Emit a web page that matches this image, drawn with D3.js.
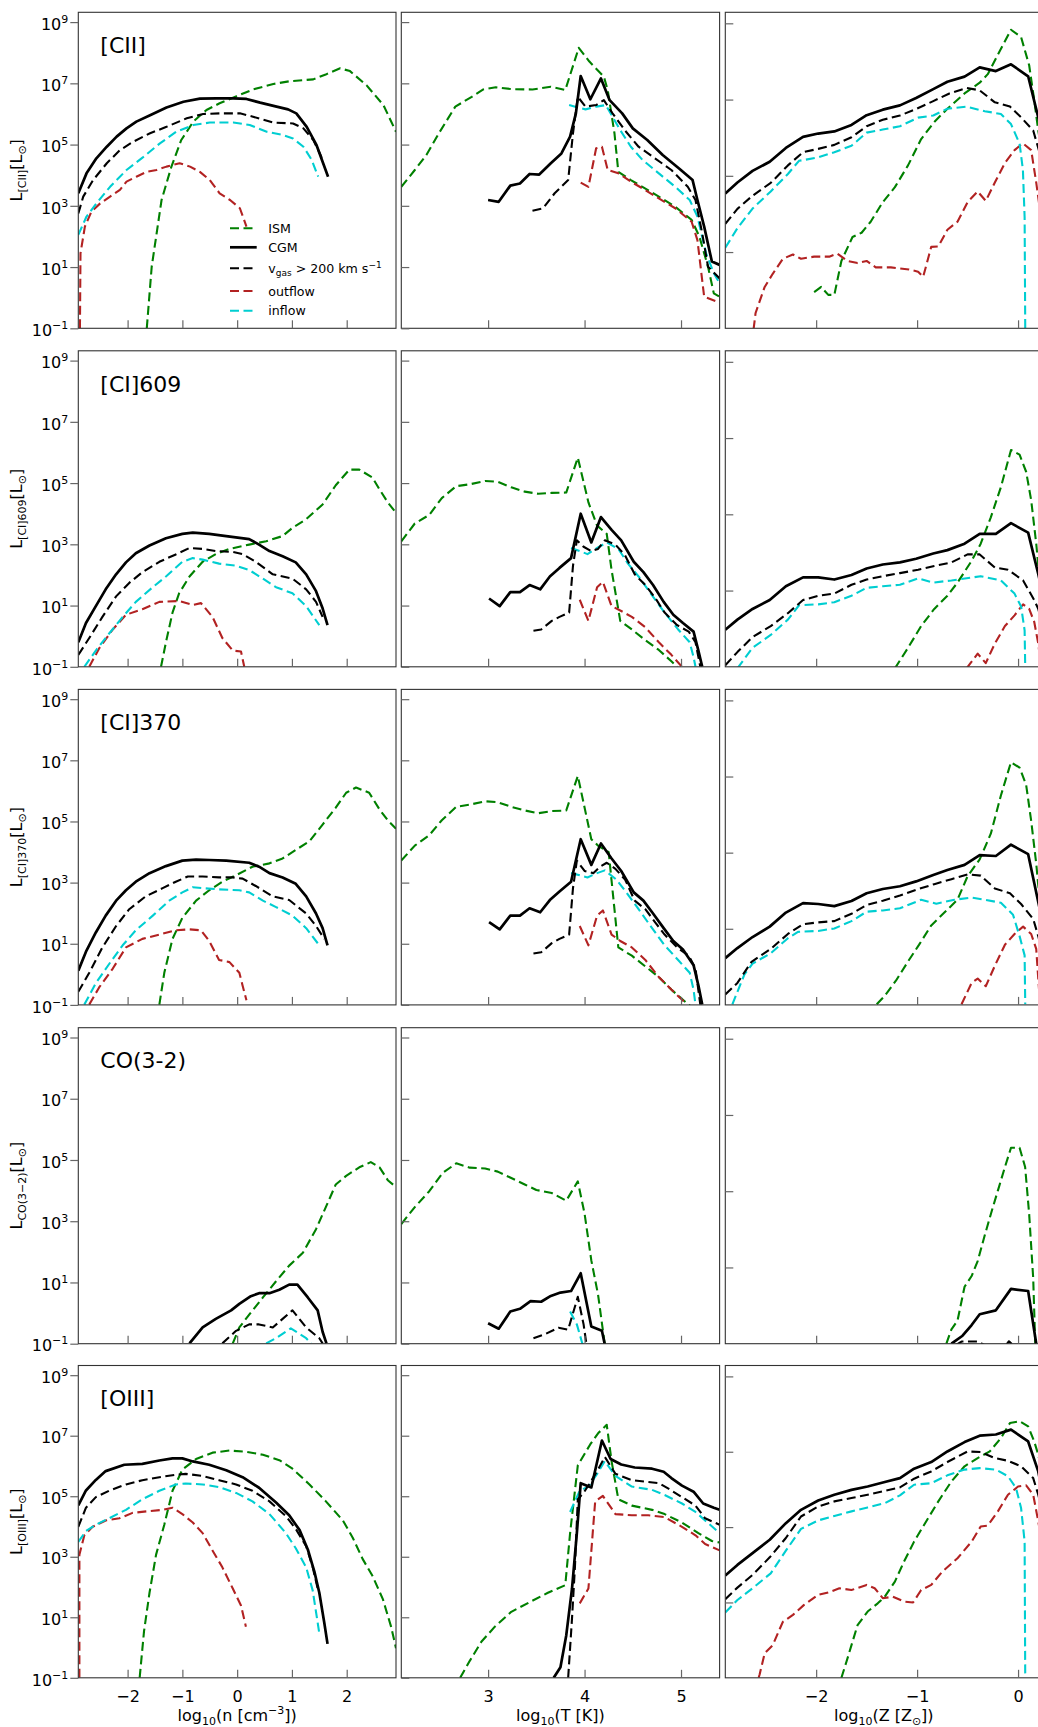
<!DOCTYPE html>
<html><head><meta charset="utf-8">
<script src="https://cdn.jsdelivr.net/npm/d3@7"></script>
<style>body{margin:0;background:#fff}svg{display:block;font-family:"DejaVu Sans",sans-serif}</style>
</head><body>
<script>
// ---- DATA: [log10(x), log10(L / Lsun)] ----
// row 1: [CII]
const cii_n_ism=[[-1.65,-1.0],[-1.56,1.01],[-1.38,3.19],[-1.2,4.28],[-1.02,5.15],[-0.8,5.75],[-0.56,6.13],[-0.32,6.35],[-0.01,6.58],[0.29,6.80],[0.66,6.98],[0.96,7.07],[1.39,7.13],[1.63,7.30],[1.88,7.49],[2.06,7.40],[2.36,6.94],[2.67,6.29],[2.90,5.42]];
const cii_n_cgm=[[-2.90,3.41],[-2.75,4.06],[-2.57,4.55],[-2.38,4.93],[-2.2,5.26],[-2.02,5.53],[-1.84,5.75],[-1.59,5.96],[-1.29,6.21],[-0.98,6.40],[-0.68,6.50],[-0.38,6.51],[-0.07,6.51],[0.17,6.49],[0.42,6.37],[0.72,6.24],[0.93,6.15],[1.08,6.02],[1.27,5.58],[1.45,4.98],[1.57,4.39],[1.66,3.95]];
const cii_n_fast=[[-2.90,2.75],[-2.81,3.30],[-2.63,3.84],[-2.38,4.39],[-2.14,4.82],[-1.9,5.09],[-1.59,5.37],[-1.29,5.58],[-0.92,5.86],[-0.62,6.00],[-0.32,6.02],[0.05,6.02],[0.29,5.91],[0.66,5.72],[1.02,5.69],[1.21,5.53],[1.39,5.15],[1.51,4.71],[1.57,4.45]];
const cii_n_out=[[-2.87,-1.0],[-2.86,1.45],[-2.78,2.32],[-2.66,2.81],[-2.5,3.08],[-2.32,3.30],[-2.14,3.52],[-2.02,3.79],[-1.84,3.95],[-1.65,4.11],[-1.47,4.17],[-1.29,4.28],[-1.05,4.39],[-0.86,4.28],[-0.68,4.11],[-0.5,3.84],[-0.32,3.41],[-0.13,3.19],[0.05,2.92],[0.17,2.32]];
const cii_n_in=[[-2.90,2.05],[-2.75,2.65],[-2.57,3.08],[-2.32,3.62],[-2.02,4.17],[-1.71,4.60],[-1.41,5.04],[-1.11,5.42],[-0.8,5.64],[-0.5,5.72],[-0.07,5.72],[0.23,5.64],[0.54,5.42],[0.84,5.31],[1.02,5.20],[1.21,4.93],[1.36,4.50],[1.48,3.95]];
const cii_t_ism=[[2.10,3.62],[2.24,4.17],[2.36,4.66],[2.49,5.37],[2.66,6.24],[2.83,6.56],[2.95,6.80],[3.08,6.87],[3.25,6.81],[3.46,6.80],[3.65,6.89],[3.80,6.78],[3.94,8.16],[4.05,7.71],[4.20,7.22],[4.24,6.78],[4.31,5.37],[4.35,4.11],[4.48,3.84],[4.60,3.62],[4.77,3.30],[4.94,2.97],[5.11,2.54],[5.19,2.0],[5.28,1.01],[5.34,0.14],[5.40,0.03]];
const cii_t_cgm=[[3.00,3.19],[3.11,3.13],[3.23,3.66],[3.33,3.73],[3.43,4.04],[3.53,4.02],[3.65,4.39],[3.76,4.71],[3.85,5.26],[3.91,6.02],[3.96,7.24],[4.06,6.48],[4.17,7.16],[4.26,6.45],[4.39,6.02],[4.50,5.53],[4.65,5.15],[4.81,4.66],[4.98,4.22],[5.12,3.84],[5.17,3.19],[5.24,2.32],[5.32,1.18],[5.40,1.07]];
const cii_t_fast=[[3.46,2.84],[3.57,2.92],[3.69,3.41],[3.83,3.84],[3.88,5.37],[3.93,6.56],[4.01,6.24],[4.12,6.29],[4.20,6.45],[4.29,6.02],[4.43,5.42],[4.56,4.93],[4.73,4.55],[4.90,4.17],[5.07,3.62],[5.15,3.19],[5.22,2.10],[5.28,1.01],[5.40,0.63]];
const cii_t_out=[[3.96,3.76],[4.04,3.62],[4.12,4.88],[4.18,4.93],[4.24,4.17],[4.35,4.06],[4.48,3.79],[4.60,3.57],[4.77,3.24],[4.94,2.92],[5.11,2.48],[5.17,1.88],[5.24,0.03],[5.40,-0.16]];
const cii_t_in=[[3.84,6.29],[3.93,6.21],[4.01,6.15],[4.12,6.24],[4.22,6.29],[4.29,5.91],[4.37,5.47],[4.48,4.93],[4.60,4.50],[4.77,4.06],[4.94,3.62],[5.09,3.19],[5.17,2.65],[5.26,1.45],[5.34,0.80],[5.40,0.47]];
const cii_z_ism=[[-2.02,0.18],[-1.95,0.35],[-1.88,0.09],[-1.82,0.09],[-1.75,1.20],[-1.64,1.98],[-1.55,2.12],[-1.46,2.48],[-1.34,3.12],[-1.22,3.61],[-1.09,4.32],[-0.96,5.18],[-0.83,5.74],[-0.70,6.17],[-0.53,6.67],[-0.38,7.02],[-0.30,7.30],[-0.20,7.94],[-0.07,8.75],[0.03,8.51],[0.11,7.59],[0.16,6.45],[0.20,5.46],[0.25,4.5]];
const cii_z_cgm=[[-2.90,3.40],[-2.78,3.76],[-2.63,4.14],[-2.46,4.44],[-2.30,4.89],[-2.13,5.25],[-1.98,5.36],[-1.82,5.43],[-1.65,5.64],[-1.50,5.96],[-1.34,6.14],[-1.17,6.28],[-1.01,6.52],[-0.84,6.81],[-0.70,7.05],[-0.53,7.22],[-0.38,7.52],[-0.22,7.40],[-0.07,7.62],[0.10,7.23],[0.20,5.89],[0.25,5.3]];
const cii_z_fast=[[-2.90,2.41],[-2.78,2.90],[-2.63,3.33],[-2.45,3.75],[-2.28,4.32],[-2.13,4.75],[-1.98,4.86],[-1.82,4.99],[-1.65,5.24],[-1.50,5.60],[-1.34,5.81],[-1.17,5.95],[-1.01,6.16],[-0.84,6.42],[-0.68,6.67],[-0.51,6.85],[-0.38,6.77],[-0.23,6.38],[-0.08,6.24],[0.03,5.89],[0.15,5.46],[0.20,4.89],[0.25,4.3]];
const cii_z_out=[[-2.62,-1.03],[-2.60,-0.50],[-2.51,0.35],[-2.43,0.78],[-2.33,1.27],[-2.23,1.41],[-2.15,1.27],[-2.02,1.34],[-1.87,1.34],[-1.79,1.44],[-1.69,1.20],[-1.59,1.13],[-1.50,1.20],[-1.41,0.99],[-1.26,0.99],[-1.08,0.92],[-0.99,0.85],[-0.94,0.68],[-0.86,1.66],[-0.79,1.67],[-0.70,2.22],[-0.60,2.48],[-0.50,3.12],[-0.40,3.47],[-0.32,3.16],[-0.23,3.76],[-0.13,4.40],[-0.035,4.82],[0.048,5.04],[0.13,4.82],[0.18,3.76],[0.22,2.8]];
const cii_z_in=[[-2.90,1.63],[-2.78,2.27],[-2.63,2.91],[-2.45,3.47],[-2.28,4.04],[-2.17,4.47],[-1.98,4.58],[-1.82,4.75],[-1.65,4.96],[-1.50,5.39],[-1.34,5.49],[-1.17,5.60],[-0.99,5.88],[-0.84,5.95],[-0.70,6.17],[-0.51,6.24],[-0.33,6.09],[-0.17,6.00],[-0.07,5.67],[0.015,5.03],[0.048,4.18],[0.065,2.62],[0.071,-1.0]];
// row 2: [CI]609
const ci609_n_ism=[[-1.39,-1.0],[-1.30,-0.2],[-1.18,0.77],[-1.06,1.40],[-0.87,1.95],[-0.63,2.43],[-0.39,2.68],[-0.14,2.85],[0.22,2.99],[0.53,3.10],[0.83,3.27],[1.01,3.54],[1.26,3.82],[1.56,4.30],[1.80,4.93],[2.05,5.44],[2.23,5.44],[2.47,5.18],[2.60,4.79],[2.75,4.37],[2.90,4.03]];
const ci609_n_cgm=[[-2.90,-0.20],[-2.76,0.43],[-2.58,0.98],[-2.40,1.53],[-2.21,2.02],[-2.03,2.41],[-1.85,2.71],[-1.60,2.96],[-1.30,3.20],[-1.00,3.34],[-0.81,3.38],[-0.51,3.34],[-0.20,3.27],[0.22,3.17],[0.40,2.99],[0.59,2.78],[0.83,2.61],[1.07,2.41],[1.26,2.02],[1.44,1.47],[1.56,0.91],[1.65,0.36]];
const ci609_n_fast=[[-2.90,-0.61],[-2.70,-0.06],[-2.46,0.63],[-2.21,1.30],[-1.97,1.74],[-1.73,2.09],[-1.42,2.43],[-1.12,2.67],[-0.87,2.88],[-0.63,2.85],[-0.39,2.78],[-0.08,2.75],[0.10,2.68],[0.34,2.43],[0.65,2.02],[1.01,1.88],[1.26,1.53],[1.44,1.12],[1.56,0.63]];
const ci609_n_out=[[-2.70,-1.0],[-2.52,-0.40],[-2.27,0.22],[-2.03,0.70],[-1.73,0.88],[-1.42,1.12],[-1.06,1.15],[-0.81,1.02],[-0.66,1.08],[-0.45,0.63],[-0.27,-0.06],[-0.08,-0.47],[0.07,-0.50],[0.13,-1.0]];
const ci609_n_in=[[-2.79,-1.0],[-2.58,-0.47],[-2.34,0.08],[-2.09,0.63],[-1.85,1.12],[-1.54,1.60],[-1.30,1.95],[-1.00,2.43],[-0.81,2.55],[-0.63,2.50],[-0.33,2.37],[-0.02,2.30],[0.22,2.16],[0.47,1.88],[0.71,1.60],[1.01,1.40],[1.26,0.98],[1.50,0.36]];
const ci609_t_ism=[[2.10,3.10],[2.24,3.68],[2.39,3.96],[2.52,4.51],[2.67,4.90],[2.81,4.96],[2.97,5.07],[3.10,5.04],[3.24,4.86],[3.38,4.72],[3.52,4.65],[3.66,4.68],[3.81,4.69],[3.93,5.83],[4.04,4.37],[4.13,3.61],[4.23,3.34],[4.28,2.16],[4.37,0.50],[4.49,0.22],[4.63,-0.13],[4.77,-0.45],[4.90,-0.82],[4.96,-1.0]];
const ci609_t_cgm=[[3.01,1.23],[3.12,0.98],[3.23,1.44],[3.33,1.44],[3.43,1.67],[3.54,1.53],[3.64,1.95],[3.74,2.23],[3.86,2.55],[3.96,4.00],[4.07,3.06],[4.17,3.89],[4.28,3.47],[4.38,3.13],[4.51,2.43],[4.61,2.09],[4.71,1.67],[4.82,1.12],[4.92,0.70],[5.02,0.43],[5.13,0.15],[5.18,-0.47],[5.22,-1.0]];
const ci609_t_fast=[[3.47,0.18],[3.55,0.22],[3.66,0.50],[3.74,0.63],[3.84,0.77],[3.88,2.30],[3.92,3.13],[3.99,2.92],[4.07,2.78],[4.14,2.85],[4.21,3.13],[4.32,2.99],[4.42,2.64],[4.52,2.02],[4.63,1.67],[4.73,1.26],[4.83,0.77],[4.96,0.36],[5.08,0.15],[5.15,-0.20],[5.20,-1.0]];
const ci609_t_out=[[3.95,1.19],[4.04,0.50],[4.13,1.60],[4.19,1.77],[4.28,0.98],[4.37,0.84],[4.49,0.63],[4.63,0.29],[4.77,-0.20],[4.90,-0.61],[5.01,-1.0]];
const ci609_t_in=[[3.86,2.88],[3.95,2.78],[4.03,2.68],[4.13,2.88],[4.23,3.06],[4.35,2.85],[4.45,2.37],[4.56,1.95],[4.70,1.33],[4.83,0.77],[4.97,0.22],[5.09,-0.20],[5.13,-0.68],[5.15,-1.0]];
const ci609_z_ism=[[-1.22,-1.05],[-1.09,-0.38],[-0.96,0.33],[-0.83,0.89],[-0.70,1.32],[-0.60,1.75],[-0.46,2.46],[-0.37,3.02],[-0.27,3.88],[-0.17,4.87],[-0.07,6.08],[0.015,5.93],[0.08,5.37],[0.13,4.44],[0.18,3.02],[0.20,2.31],[0.25,1.5]];
const ci609_z_cgm=[[-2.90,0.21],[-2.78,0.54],[-2.63,0.89],[-2.46,1.18],[-2.30,1.63],[-2.13,1.92],[-1.98,1.92],[-1.82,1.85],[-1.65,2.00],[-1.50,2.21],[-1.34,2.34],[-1.17,2.41],[-1.01,2.53],[-0.84,2.70],[-0.70,2.81],[-0.53,3.02],[-0.38,3.34],[-0.22,3.34],[-0.07,3.69],[0.10,3.38],[0.20,2.03],[0.25,1.3]];
const ci609_z_fast=[[-2.90,-0.95],[-2.78,-0.52],[-2.63,-0.03],[-2.45,0.33],[-2.28,0.75],[-2.13,1.18],[-1.98,1.32],[-1.82,1.39],[-1.65,1.68],[-1.50,1.85],[-1.34,1.96],[-1.17,2.06],[-0.99,2.17],[-0.83,2.29],[-0.66,2.41],[-0.50,2.67],[-0.38,2.67],[-0.23,2.24],[-0.10,2.17],[0.05,1.82],[0.16,1.18],[0.20,0.89],[0.25,0.3]];
const ci609_z_out=[[-0.51,-1.05],[-0.40,-0.57],[-0.32,-0.88],[-0.23,-0.24],[-0.13,0.33],[-0.035,0.68],[0.05,1.04],[0.11,0.89],[0.16,0.47],[0.20,-0.24],[0.23,-1.05]];
const ci609_z_in=[[-2.78,-1.05],[-2.63,-0.38],[-2.45,0.04],[-2.28,0.54],[-2.17,1.01],[-1.98,1.04],[-1.82,1.11],[-1.65,1.32],[-1.50,1.58],[-1.34,1.63],[-1.17,1.68],[-0.99,1.89],[-0.84,1.75],[-0.66,1.82],[-0.51,1.89],[-0.37,1.96],[-0.17,1.82],[-0.035,1.39],[0.03,0.97],[0.065,0.19],[0.071,-1.05]];
// row 3: [CI]370
const ci370_n_ism=[[-1.42,-0.99],[-1.33,0.05],[-1.18,1.16],[-1.00,1.85],[-0.75,2.41],[-0.51,2.75],[-0.27,3.03],[-0.02,3.24],[0.28,3.52],[0.59,3.63],[0.83,3.79],[1.07,4.07],[1.32,4.35],[1.56,4.90],[1.80,5.45],[1.99,5.94],[2.17,6.11],[2.41,5.94],[2.60,5.39],[2.75,5.04],[2.90,4.76]];
const ci370_n_cgm=[[-2.90,0.12],[-2.76,0.74],[-2.58,1.37],[-2.40,1.92],[-2.21,2.41],[-2.03,2.75],[-1.85,3.03],[-1.60,3.31],[-1.30,3.54],[-1.00,3.72],[-0.75,3.75],[-0.51,3.74],[-0.20,3.72],[0.22,3.65],[0.40,3.52],[0.59,3.31],[0.83,3.17],[1.07,2.96],[1.26,2.55],[1.44,1.99],[1.56,1.51],[1.65,0.95]];
const ci370_n_fast=[[-2.90,-0.57],[-2.70,0.05],[-2.46,0.88],[-2.21,1.58],[-1.97,2.13],[-1.67,2.55],[-1.36,2.82],[-1.12,3.03],[-0.90,3.20],[-0.63,3.20],[-0.33,3.17],[-0.08,3.17],[0.10,3.13],[0.34,2.89],[0.65,2.55],[0.95,2.43],[1.26,1.99],[1.44,1.58],[1.59,1.16]];
const ci370_n_out=[[-2.70,-0.99],[-2.52,-0.43],[-2.27,0.19],[-2.03,0.88],[-1.73,1.16],[-1.42,1.30],[-1.12,1.44],[-0.87,1.47],[-0.66,1.44],[-0.51,1.09],[-0.33,0.47],[-0.14,0.40],[0.04,0.05],[0.10,-0.37],[0.17,-0.85]];
const ci370_n_in=[[-2.79,-0.99],[-2.58,-0.29],[-2.34,0.33],[-2.09,0.95],[-1.85,1.44],[-1.54,1.92],[-1.24,2.41],[-1.00,2.68],[-0.81,2.85],[-0.63,2.82],[-0.33,2.78],[0.04,2.75],[0.22,2.68],[0.47,2.41],[0.71,2.20],[1.01,1.92],[1.26,1.51],[1.50,0.95]];
const ci370_t_ism=[[2.10,3.72],[2.24,4.21],[2.39,4.55],[2.52,5.04],[2.67,5.48],[2.81,5.55],[2.97,5.66],[3.10,5.63],[3.24,5.48],[3.38,5.36],[3.52,5.27],[3.66,5.34],[3.81,5.36],[3.93,6.49],[4.07,4.42],[4.14,4.21],[4.25,4.0],[4.35,0.88],[4.49,0.61],[4.63,0.26],[4.77,-0.09],[4.90,-0.50],[5.04,-0.89],[5.1,-1.05]];
const ci370_t_cgm=[[3.01,1.71],[3.12,1.47],[3.23,1.92],[3.33,1.92],[3.43,2.16],[3.54,2.03],[3.64,2.43],[3.74,2.71],[3.86,3.03],[3.96,4.42],[4.07,3.58],[4.17,4.28],[4.28,3.79],[4.38,3.38],[4.51,2.68],[4.61,2.41],[4.71,1.99],[4.82,1.51],[4.92,1.09],[5.02,0.81],[5.13,0.30],[5.18,-0.36],[5.22,-0.99]];
const ci370_t_fast=[[3.47,0.68],[3.55,0.72],[3.66,1.02],[3.74,1.16],[3.84,1.30],[3.88,2.82],[3.92,3.72],[4.00,3.38],[4.09,3.31],[4.16,3.52],[4.23,3.65],[4.32,3.45],[4.42,3.10],[4.52,2.41],[4.63,2.13],[4.73,1.71],[4.83,1.30],[4.96,0.88],[5.08,0.61],[5.15,0.19],[5.20,-0.99]];
const ci370_t_out=[[3.95,1.58],[4.04,0.95],[4.13,1.92],[4.19,2.09],[4.28,1.30],[4.37,1.09],[4.49,0.88],[4.63,0.47],[4.77,-0.09],[4.90,-0.50],[5.04,-0.92]];
const ci370_t_in=[[3.86,3.31],[3.95,3.24],[4.03,3.17],[4.13,3.31],[4.21,3.40],[4.33,3.10],[4.45,2.61],[4.56,2.13],[4.70,1.51],[4.83,0.95],[4.97,0.47],[5.09,0.05],[5.13,-0.50],[5.15,-0.99]];
const ci370_z_ism=[[-1.40,-0.98],[-1.32,-0.70],[-1.21,-0.21],[-1.09,0.42],[-0.98,0.97],[-0.86,1.60],[-0.73,2.02],[-0.60,2.44],[-0.50,3.21],[-0.38,3.76],[-0.27,4.60],[-0.17,5.85],[-0.07,6.94],[0.015,6.76],[0.08,6.20],[0.13,5.02],[0.18,3.62],[0.20,2.92],[0.25,1.8]];
const ci370_z_cgm=[[-2.90,0.53],[-2.78,0.86],[-2.63,1.22],[-2.46,1.56],[-2.30,2.02],[-2.13,2.33],[-1.98,2.30],[-1.82,2.23],[-1.65,2.40],[-1.50,2.65],[-1.34,2.79],[-1.17,2.88],[-1.01,3.04],[-0.84,3.25],[-0.70,3.41],[-0.53,3.58],[-0.38,3.90],[-0.22,3.87],[-0.07,4.24],[0.10,3.93],[0.20,2.37],[0.25,1.6]];
const ci370_z_fast=[[-2.90,-0.66],[-2.78,-0.28],[-2.64,0.41],[-2.45,0.83],[-2.28,1.32],[-2.13,1.64],[-1.98,1.70],[-1.82,1.74],[-1.65,1.98],[-1.50,2.27],[-1.34,2.41],[-1.17,2.58],[-0.99,2.79],[-0.83,2.95],[-0.66,3.11],[-0.50,3.27],[-0.37,3.23],[-0.23,2.81],[-0.08,2.65],[0.03,2.30],[0.15,1.81],[0.20,1.25],[0.25,0.6]];
const ci370_z_out=[[-0.56,-0.98],[-0.46,-0.28],[-0.40,-0.14],[-0.32,-0.39],[-0.23,0.28],[-0.13,0.97],[-0.035,1.32],[0.05,1.56],[0.13,1.32],[0.18,0.83],[0.20,-0.14],[0.22,-1.05]];
const ci370_z_in=[[-2.83,-0.98],[-2.71,0.0],[-2.63,0.35],[-2.45,0.69],[-2.28,1.18],[-2.18,1.39],[-1.98,1.42],[-1.82,1.50],[-1.65,1.74],[-1.50,2.05],[-1.34,2.09],[-1.17,2.16],[-0.96,2.44],[-0.81,2.31],[-0.63,2.44],[-0.46,2.51],[-0.33,2.44],[-0.17,2.34],[-0.05,1.95],[0.015,1.25],[0.065,0.62],[0.071,-0.98]];
// row 4: CO(3-2)
const co32_n_ism=[[-0.08,-0.99],[0.04,-0.47],[0.22,-0.05],[0.47,0.51],[0.71,1.04],[0.95,1.55],[1.20,1.97],[1.44,2.74],[1.68,3.71],[1.80,4.20],[1.99,4.48],[2.23,4.76],[2.44,4.93],[2.60,4.76],[2.75,4.34],[2.87,4.16]];
const co32_n_cgm=[[-0.87,-0.99],[-0.63,-0.47],[-0.39,-0.19],[-0.11,0.09],[0.04,0.30],[0.25,0.55],[0.40,0.65],[0.59,0.65],[0.77,0.76],[0.95,0.93],[1.10,0.93],[1.29,0.51],[1.47,0.09],[1.56,-0.61],[1.63,-0.99]];
const co32_n_fast=[[-0.27,-0.99],[-0.02,-0.58],[0.22,-0.37],[0.40,-0.37],[0.65,-0.47],[0.83,-0.19],[1.01,0.09],[1.26,-0.47],[1.50,-0.82],[1.56,-0.99]];
const co32_n_out=[];
const co32_n_in=[[0.53,-0.99],[0.71,-0.82],[0.98,-0.50],[1.26,-0.82],[1.35,-0.99]];
const co32_t_ism=[[2.10,2.91],[2.24,3.46],[2.39,3.98],[2.53,4.58],[2.67,4.89],[2.81,4.75],[2.97,4.72],[3.10,4.62],[3.24,4.41],[3.38,4.20],[3.50,4.02],[3.66,3.92],[3.81,3.67],[3.93,4.30],[4.00,3.25],[4.07,1.72],[4.14,0.60],[4.21,-1.03]];
const co32_t_cgm=[[3.00,-0.33],[3.11,-0.51],[3.23,0.05],[3.33,0.14],[3.44,0.39],[3.55,0.37],[3.65,0.56],[3.75,0.67],[3.86,0.72],[3.96,1.30],[4.07,-0.44],[4.18,-0.58],[4.21,-1.03]];
const co32_t_fast=[[3.47,-0.82],[3.59,-0.69],[3.73,-0.48],[3.83,-0.54],[3.93,0.53],[3.99,-0.37],[4.02,-1.03]];
const co32_t_out=[];
const co32_t_in=[[3.85,0.05],[3.92,-0.37],[3.98,-1.03]];
const co32_z_ism=[[-0.71,-1.0],[-0.66,-0.53],[-0.60,-0.25],[-0.53,0.86],[-0.46,1.21],[-0.40,1.70],[-0.33,2.54],[-0.27,3.23],[-0.20,4.0],[-0.13,4.77],[-0.07,5.40],[0.015,5.40],[0.07,4.77],[0.11,3.23],[0.15,1.14],[0.17,-1.0]];
const co32_z_cgm=[[-0.66,-1.0],[-0.55,-0.74],[-0.46,-0.39],[-0.38,-0.04],[-0.22,0.09],[-0.07,0.79],[0.10,0.72],[0.18,-1.0]];
const co32_z_fast=[[-0.62,-1.05],[-0.56,-0.93],[-0.40,-0.93],[-0.33,-1.05],null,[-0.12,-1.05],[-0.09,-0.92],[-0.05,-1.05]];
const co32_z_out=[];
const co32_z_in=[];
// row 5: [OIII]
const oiii_n_ism=[[-1.78,-1.0],[-1.70,0.54],[-1.60,1.81],[-1.48,3.07],[-1.33,4.06],[-1.18,5.18],[-1.00,5.88],[-0.75,6.23],[-0.45,6.44],[-0.14,6.51],[0.16,6.47],[0.47,6.37],[0.77,6.19],[1.01,5.91],[1.32,5.39],[1.62,4.83],[1.93,4.20],[2.11,3.63],[2.29,2.93],[2.47,2.37],[2.66,1.60],[2.81,0.69],[2.90,-0.02]];
const oiii_n_cgm=[[-2.90,4.70],[-2.76,5.19],[-2.58,5.54],[-2.40,5.83],[-2.06,6.04],[-1.73,6.07],[-1.42,6.18],[-1.18,6.25],[-1.00,6.25],[-0.81,6.15],[-0.51,6.04],[-0.20,5.86],[0.10,5.63],[0.40,5.28],[0.71,4.79],[0.95,4.37],[1.14,3.88],[1.29,3.24],[1.41,2.51],[1.50,1.81],[1.59,0.83],[1.65,0.12]];
const oiii_n_fast=[[-2.90,3.99],[-2.76,4.62],[-2.58,4.97],[-2.34,5.18],[-2.03,5.39],[-1.73,5.53],[-1.42,5.63],[-1.12,5.71],[-0.94,5.74],[-0.63,5.67],[-0.33,5.53],[-0.02,5.39],[0.28,5.18],[0.59,4.83],[0.89,4.34],[1.07,3.92],[1.26,3.35],[1.38,2.65],[1.47,1.95]];
const oiii_n_out=[[-2.88,-1.0],[-2.88,3.07],[-2.79,3.71],[-2.64,3.99],[-2.40,4.20],[-2.15,4.27],[-1.91,4.45],[-1.60,4.51],[-1.36,4.55],[-1.18,4.62],[-1.00,4.41],[-0.81,4.13],[-0.63,3.78],[-0.45,3.21],[-0.27,2.65],[-0.08,1.95],[0.07,1.39],[0.16,0.69]];
const oiii_n_in=[[-2.90,3.49],[-2.76,3.85],[-2.58,4.06],[-2.34,4.27],[-2.03,4.55],[-1.73,4.90],[-1.42,5.18],[-1.12,5.39],[-0.94,5.42],[-0.63,5.39],[-0.33,5.30],[-0.02,5.11],[0.28,4.83],[0.59,4.41],[0.89,3.78],[1.07,3.28],[1.26,2.65],[1.38,1.88],[1.50,0.47]];
const oiii_t_ism=[[2.71,-1.0],[2.81,-0.44],[2.93,0.19],[3.07,0.69],[3.24,1.18],[3.45,1.53],[3.62,1.81],[3.80,2.06],[3.85,3.78],[3.93,6.02],[4.06,6.72],[4.14,7.08],[4.23,7.36],[4.28,6.16],[4.35,4.90],[4.49,4.69],[4.70,4.55],[4.83,4.41],[5.01,4.13],[5.18,3.78],[5.32,3.52],[5.40,3.47]];
const oiii_t_cgm=[[3.68,-1.0],[3.75,-0.65],[3.81,0.40],[3.87,1.95],[3.92,3.78],[3.96,5.43],[4.07,5.29],[4.18,6.84],[4.27,6.23],[4.38,6.05],[4.52,5.95],[4.70,5.91],[4.82,5.81],[4.90,5.60],[5.01,5.35],[5.13,5.15],[5.23,4.76],[5.34,4.62],[5.40,4.55]];
const oiii_t_fast=[[3.83,-1.0],[3.87,0.97],[3.90,2.65],[3.93,4.90],[3.99,5.11],[4.06,5.46],[4.14,5.88],[4.21,6.30],[4.32,5.74],[4.49,5.53],[4.77,5.43],[4.87,5.25],[5.01,4.97],[5.15,4.69],[5.25,4.27],[5.40,4.06]];
const oiii_t_out=[[3.95,1.46],[4.04,1.95],[4.11,4.83],[4.19,5.01],[4.32,4.41],[4.49,4.37],[4.66,4.37],[4.83,4.31],[5.01,3.99],[5.15,3.71],[5.25,3.42],[5.40,3.21]];
const oiii_t_in=[[3.85,4.48],[3.95,5.18],[4.04,5.32],[4.13,5.74],[4.21,6.16],[4.32,5.67],[4.49,5.32],[4.70,5.21],[4.83,5.04],[5.01,4.76],[5.15,4.48],[5.25,4.20],[5.40,3.78]];
const oiii_z_ism=[[-1.75,-1.0],[-1.70,-0.47],[-1.65,0.08],[-1.59,0.74],[-1.49,1.19],[-1.39,1.46],[-1.32,1.68],[-1.22,2.18],[-1.13,2.84],[-1.03,3.50],[-0.93,4.06],[-0.79,4.83],[-0.66,5.49],[-0.53,5.99],[-0.40,6.26],[-0.28,6.48],[-0.17,6.92],[-0.08,7.42],[0.015,7.48],[0.10,7.31],[0.16,6.81],[0.20,6.37],[0.25,5.6]];
const oiii_z_cgm=[[-2.90,2.38],[-2.78,2.73],[-2.63,3.12],[-2.46,3.56],[-2.30,4.11],[-2.15,4.55],[-1.98,4.86],[-1.82,5.05],[-1.65,5.21],[-1.49,5.32],[-1.32,5.47],[-1.17,5.60],[-1.03,5.91],[-0.86,6.13],[-0.70,6.48],[-0.53,6.79],[-0.38,7.0],[-0.22,7.04],[-0.07,7.20],[0.10,6.81],[0.20,5.82],[0.25,5.0]];
const oiii_z_fast=[[-2.90,1.60],[-2.78,1.98],[-2.63,2.40],[-2.46,2.98],[-2.30,3.62],[-2.15,4.33],[-1.98,4.66],[-1.82,4.83],[-1.65,4.94],[-1.49,5.05],[-1.32,5.18],[-1.17,5.29],[-1.03,5.58],[-0.86,5.82],[-0.70,6.13],[-0.50,6.48],[-0.37,6.46],[-0.23,6.26],[-0.10,6.17],[0.03,5.99],[0.15,5.60],[0.20,5.05],[0.25,4.4]];
const oiii_z_out=[[-2.57,-1.0],[-2.56,-0.89],[-2.51,-0.19],[-2.43,0.08],[-2.33,0.85],[-2.23,1.08],[-2.12,1.41],[-1.98,1.74],[-1.87,1.83],[-1.77,1.96],[-1.65,1.90],[-1.50,2.07],[-1.42,1.96],[-1.34,1.63],[-1.24,1.68],[-1.13,1.52],[-1.04,1.49],[-0.96,1.90],[-0.86,2.07],[-0.75,2.51],[-0.60,2.95],[-0.46,3.50],[-0.37,4.0],[-0.30,4.03],[-0.20,4.50],[-0.10,5.05],[0.0,5.32],[0.08,5.36],[0.15,5.05],[0.20,4.17],[0.25,3.2]];
const oiii_z_in=[[-2.90,1.16],[-2.78,1.57],[-2.63,1.96],[-2.45,2.45],[-2.30,3.20],[-2.15,3.92],[-1.98,4.20],[-1.82,4.35],[-1.65,4.50],[-1.49,4.63],[-1.32,4.77],[-1.17,5.03],[-1.03,5.38],[-0.86,5.43],[-0.70,5.69],[-0.53,5.88],[-0.38,5.93],[-0.22,5.88],[-0.10,5.66],[-0.02,5.27],[0.03,4.61],[0.065,3.50],[0.071,-1.0]];

// ---- categories / labels ----
const rowNames=["[CII]","[CI]609","[CI]370","CO(3-2)","[OIII]"];
const rowSubs=["[CII]","[CI]609","[CI]370","CO(3\u22122)","[OIII]"];
const seriesNames=["ISM","CGM","vgas","outflow","inflow"];
const xTicksN=[-2,-1,0,1,2], xTicksT=[3,4,5], xTicksZ=[-2,-1,0];
const yTickExp=[-1,1,3,5,7,9];
const yTickExpZ=[1.49,3.98,6.47,8.96];

const D={
 cii:{n:[cii_n_ism,cii_n_cgm,cii_n_fast,cii_n_out,cii_n_in],t:[cii_t_ism,cii_t_cgm,cii_t_fast,cii_t_out,cii_t_in],z:[cii_z_ism,cii_z_cgm,cii_z_fast,cii_z_out,cii_z_in]},
 ci609:{n:[ci609_n_ism,ci609_n_cgm,ci609_n_fast,ci609_n_out,ci609_n_in],t:[ci609_t_ism,ci609_t_cgm,ci609_t_fast,ci609_t_out,ci609_t_in],z:[ci609_z_ism,ci609_z_cgm,ci609_z_fast,ci609_z_out,ci609_z_in]},
 ci370:{n:[ci370_n_ism,ci370_n_cgm,ci370_n_fast,ci370_n_out,ci370_n_in],t:[ci370_t_ism,ci370_t_cgm,ci370_t_fast,ci370_t_out,ci370_t_in],z:[ci370_z_ism,ci370_z_cgm,ci370_z_fast,ci370_z_out,ci370_z_in]},
 co32:{n:[co32_n_ism,co32_n_cgm,co32_n_fast,co32_n_out,co32_n_in],t:[co32_t_ism,co32_t_cgm,co32_t_fast,co32_t_out,co32_t_in],z:[co32_z_ism,co32_z_cgm,co32_z_fast,co32_z_out,co32_z_in]},
 oiii:{n:[oiii_n_ism,oiii_n_cgm,oiii_n_fast,oiii_n_out,oiii_n_in],t:[oiii_t_ism,oiii_t_cgm,oiii_t_fast,oiii_t_out,oiii_t_in],z:[oiii_z_ism,oiii_z_cgm,oiii_z_fast,oiii_z_out,oiii_z_in]}
};
const rowKeys=["cii","ci609","ci370","co32","oiii"];
const colKeys=["n","t","z"];

// ---- styles / layout ----
const styles=[
 {color:"#008000",width:2.1,dash:"9,4.5"},
 {color:"#000000",width:2.7,dash:null},
 {color:"#000000",width:2.1,dash:"9,4.5"},
 {color:"#B22222",width:2.1,dash:"9,4.5"},
 {color:"#00CED1",width:2.1,dash:"9,4.5"}
];
const drawOrder=[0,3,4,2,1];
const rowTop=[12.3,350.8,689.4,1027.7,1365.5];
const rowH=[316,316,315.5,316,312.3];
const colLeft=[78.3,401.3,725.3];
const colW=[317.7,318.3,318];
const xDom=[[-2.9,2.9],[2.1,5.4],[-2.9,0.25]];
const xTicks=[xTicksN,xTicksT,xTicksZ];
const FONT='"DejaVu Sans", sans-serif';

const svg=d3.select("body").append("svg").attr("width",1038).attr("height",1727);
svg.append("rect").attr("width",1038).attr("height",1727).attr("fill","#fff");
const defs=svg.append("defs");
const minus=s=>String(s).replace("-","\u2212");

function supLabel(sel,base,exp){
  sel.text(null);
  sel.append("tspan").text(base);
  sel.append("tspan").attr("font-size",11).attr("dy",-7).text(minus(exp));
}

rowKeys.forEach((rk,r)=>{
  colKeys.forEach((ck,c)=>{
    const L=colLeft[c],T=rowTop[r],W=colW[c],H=rowH[r];
    const x=d3.scaleLinear().domain(xDom[c]).range([L,L+W]);
    const y=d3.scaleLog().domain([0.1,Math.pow(10,9.32)]).range([T+H,T]);
    const cid=`clip${r}${c}`;
    defs.append("clipPath").attr("id",cid).append("rect").attr("x",L).attr("y",T).attr("width",W).attr("height",H);
    const g=svg.append("g");
    const line=d3.line().defined(d=>d!==null).x(d=>x(d[0])).y(d=>y(Math.pow(10,d[1])));
    const lg=g.append("g").attr("clip-path",`url(#${cid})`);
    drawOrder.forEach(si=>{
      const data=D[rk][ck][si];
      if(!data.length) return;
      const st=styles[si];
      lg.append("path").attr("d",line(data)).attr("fill","none").attr("stroke",st.color)
        .attr("stroke-width",st.width).attr("stroke-dasharray",st.dash).attr("stroke-linejoin","round");
    });
    g.append("rect").attr("x",L).attr("y",T).attr("width",W).attr("height",H).attr("fill","none").attr("stroke","#333").attr("stroke-width",1.1);
    const yvals=(c===2?yTickExpZ:yTickExp).map(e=>Math.pow(10,e));
    const yAx=d3.axisLeft(y).tickValues(yvals).tickSizeOuter(0).tickPadding(2);
    if(c===0){ yAx.tickSizeInner(8); } else { yAx.tickSizeInner(-8).tickFormat(""); }
    const ya=g.append("g").attr("transform",`translate(${L},0)`).call(yAx);
    ya.select(".domain").remove();
    ya.selectAll(".tick line").attr("stroke","#666").attr("stroke-width",1.2);
    if(c===0){
      ya.selectAll(".tick text").attr("font-family",FONT).attr("font-size",16).attr("fill","#000").attr("dy","0.45em")
        .each(function(d){ supLabel(d3.select(this),"10",Math.round(Math.log10(d))); });
    }
    const xAx=d3.axisBottom(x).tickValues(xTicks[c]).tickSizeInner(-8).tickSizeOuter(0).tickPadding(13)
      .tickFormat(r===4?(d=>minus(d)):"");
    const xa=g.append("g").attr("transform",`translate(0,${T+H})`).call(xAx);
    xa.select(".domain").remove();
    xa.selectAll(".tick line").attr("stroke","#666").attr("stroke-width",1.2);
    xa.selectAll(".tick text").attr("font-family",FONT).attr("font-size",16).attr("fill","#000");
    if(c===0){
      g.append("text").attr("x",L+22).attr("y",T+40.7).attr("font-family",FONT).attr("font-size",22).text(rowNames[r]);
      const cy=T+H/2;
      const yl=g.append("text").attr("transform",`translate(22,${cy}) rotate(-90)`).attr("text-anchor","middle")
        .attr("font-family",FONT).attr("font-size",16);
      yl.append("tspan").text("L");
      yl.append("tspan").attr("font-size",11).attr("dy",4).text(rowSubs[r]);
      yl.append("tspan").attr("dy",-4).text("[L");
      yl.append("tspan").attr("font-size",11).attr("dy",4).text("\u2299");
      yl.append("tspan").attr("dy",-4).text("]");
    }
    if(r===4){
      const xl=g.append("text").attr("x",L+W/2+(c===2?-0.5:0)).attr("y",1721).attr("text-anchor","middle")
        .attr("font-family",FONT).attr("font-size",16);
      xl.append("tspan").text("log");
      xl.append("tspan").attr("font-size",11).attr("dy",4).text("10");
      if(c===0){
        xl.append("tspan").attr("dy",-4).text("(n [cm");
        xl.append("tspan").attr("font-size",11).attr("dy",-7).text("\u22123");
        xl.append("tspan").attr("dy",7).text("])");
      } else if(c===1){
        xl.append("tspan").attr("dy",-4).text("(T [K])");
      } else {
        xl.append("tspan").attr("dy",-4).text("(Z [Z");
        xl.append("tspan").attr("font-size",11).attr("dy",4).text("\u2299");
        xl.append("tspan").attr("dy",-4).text("])");
      }
    }
    if(r===0&&c===0){
      const ly=[228.3,247.3,268.3,291,310.7];
      const lgd=svg.append("g");
      [0,1,2,3,4].forEach(i=>{
        const st=styles[i];
        lgd.append("line").attr("x1",230).attr("x2",256.7).attr("y1",ly[i]).attr("y2",ly[i])
          .attr("stroke",st.color).attr("stroke-width",st.width).attr("stroke-dasharray",st.dash);
        const t=lgd.append("text").attr("x",268.3).attr("y",ly[i]+4.5).attr("font-family",FONT).attr("font-size",12.6);
        if(i===2){
          t.append("tspan").text("v");
          t.append("tspan").attr("font-size",9).attr("dy",3).text("gas");
          t.append("tspan").attr("dy",-3).text(" > 200 km s");
          t.append("tspan").attr("font-size",9).attr("dy",-5).text("\u22121");
        } else t.text(seriesNames[i]);
      });
    }
  });
});
</script>
</body></html>
